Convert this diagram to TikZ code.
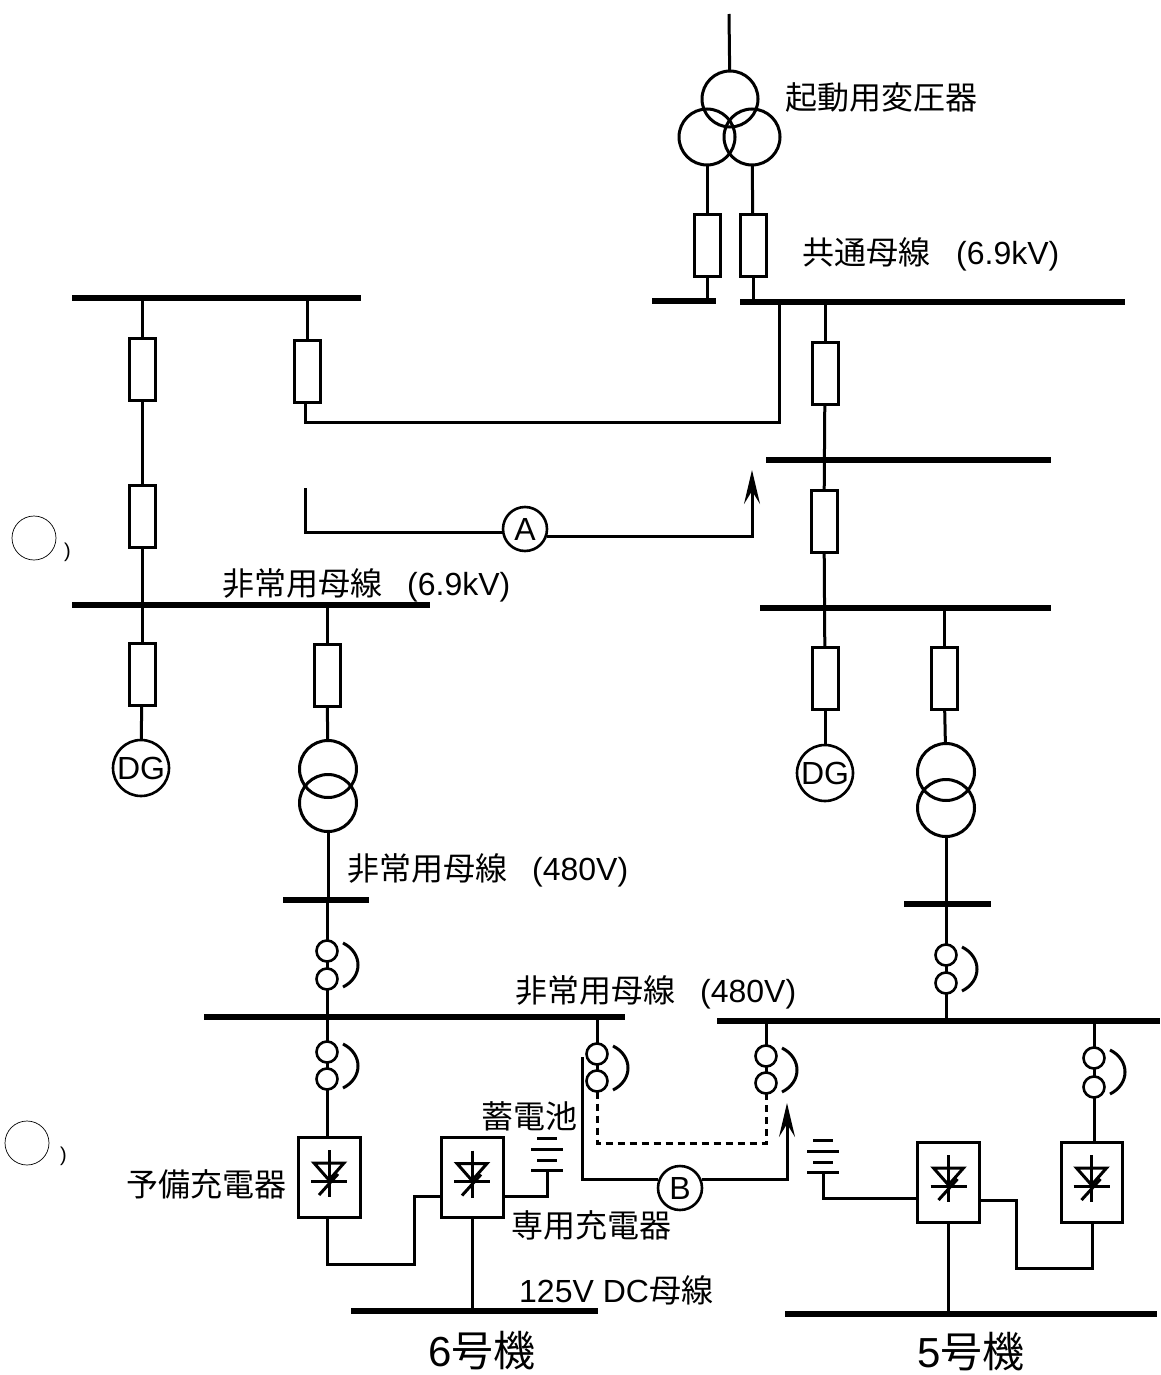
\documentclass[tikz,border=0pt]{standalone}
\usepackage{fontspec}
\setmainfont{Liberation Sans}
\newfontfamily\jp{Noto Sans CJK JP}
\usetikzlibrary{arrows.meta}
\tikzset{
    wire/.style={line width=3pt},
    brk/.style={shape=rectangle,draw=black,line width=3pt,minimum width=26pt,minimum height=62pt,inner sep=0pt,outer sep=0pt},
    bus/.style={shape=rectangle,fill=black,minimum height=6pt,inner sep=0pt,outer sep=0pt},
    sw/.style={shape=circle,draw=black,line width=2.6pt,minimum size=21pt,inner sep=0pt,outer sep=0pt},
    trans/.style={shape=circle,draw=black,line width=3pt,minimum size=56pt,inner sep=0pt,outer sep=0pt},
    gen/.style={shape=circle,draw=black,line width=2.6pt,minimum size=56pt,inner sep=0pt,outer sep=0pt,font=\fontsize{32}{32}\selectfont},
    tag/.style={shape=circle,draw=black,line width=2.6pt,minimum size=44pt,inner sep=0pt,outer sep=0pt,font=\fontsize{32}{32}\selectfont},
    chg/.style={shape=rectangle,draw=black,line width=3pt,minimum width=62pt,minimum height=80pt,inner sep=0pt,outer sep=0pt},
    lbl/.style={anchor=west,inner sep=0pt,font=\fontsize{32}{32}\selectfont},
    big/.style={anchor=west,inner sep=0pt,font=\fontsize{42}{42}\selectfont},
    blank/.style={shape=circle,draw=black,line width=0.7pt,minimum size=44pt,inner sep=0pt,outer sep=0pt},
    thy/.pic={
        \draw[wire] (0,-27) -- (0,20);
        \draw[wire] (-15,-14) -- (15,-14) -- (0,3) -- cycle;
        \draw[wire] (-18,4) -- (18,4);
        \draw[wire] (9,-3) -- (-10,18);
    },
    batt/.pic={
        \draw[wire] (-10,-32) -- (10,-32);
        \draw[wire] (-16,-21) -- (16,-21);
        \draw[wire] (-10,-10) -- (10,-10);
        \draw[wire] (-16,0) -- (16,0);
    },
    hook/.pic={
        \draw[wire] (16,-22) .. controls (36,-12) and (36,12) .. (16,22);
    },
    >={Stealth[length=34pt,width=16pt,inset=13pt]}
}
\begin{document}
\begin{tikzpicture}[x=1pt,y=-1pt]
    \useasboundingbox (0,0) rectangle (1160,1375);

    \coordinate (top) at (729,14);
    \node[trans] (T0) at (730,99) {};
    \node[trans] (T1) at (707,137) {};
    \node[trans] (T2) at (752,137) {};
    \node[brk] (K1) at (707,245) {};
    \node[brk] (K2) at (753,245) {};
    \node[bus,minimum width=64pt] (Ba) at (684,301) {};
    \node[bus,minimum width=385pt] (Bb) at (932.5,302) {};
    \node[lbl] (n1) at (785,97) {\jp 起動用変圧器};
    \node[lbl] (n2) at (802,254) {\jp 共通母線\rmfamily\hspace{26pt}(6.9kV)};
    \path [wire] (top) edge (T0);
    \path [wire] (T1) edge (K1);
    \path [wire] (T2) edge (K2);
    \path [wire] (K1) edge (K1 |- Ba);
    \path [wire] (K2) edge (K2 |- Bb);

    \node[bus,minimum width=289pt] (Bc) at (216.5,298) {};
    \node[brk] (K3) at (142,369) {};
    \node[brk] (K4) at (307,371) {};
    \node[brk] (K5) at (142,516) {};
    \node[bus,minimum width=358pt] (Bd) at (251,605) {};
    \node[brk] (K6) at (142,674) {};
    \node[brk] (K7) at (327,675) {};
    \node[gen] (G1) at (141,768) {DG};
    \node[trans,minimum size=57pt] (T3) at (328,769) {};
    \node[trans,minimum size=57pt] (T4) at (328,803) {};
    \node[bus,minimum width=86pt] (Be) at (326,900) {};
    \node[lbl] (n3) at (222,585) {\jp 非常用母線\rmfamily\hspace{25pt}(6.9kV)};
    \node[lbl] (n4) at (347,870) {\jp 非常用母線\rmfamily\hspace{25pt}(480V)};
    \path [wire] (K3 |- Bc) edge (K3);
    \path [wire] (K4 |- Bc) edge (K4);
    \path [wire] (K3) edge (K5);
    \path [wire] (K5) edge (K6);
    \path [wire] (K6) edge (G1);
    \path [wire] (K7 |- Bd) edge (K7);
    \path [wire] (K7) edge (T3);
    \path [wire] (T4) edge (T4 |- Be);

    \coordinate (c1) at (779,422);
    \coordinate (c2) at (305,422);
    \draw[wire] (c1 |- Bb) -- (c1) -- (c2) -- (c2 |- K4.south);

    \node[tag] (A) at (525,529) {A};
    \coordinate (a0) at (305,488);
    \coordinate (a1) at (305,532);
    \coordinate (a2) at (752,536);
    \coordinate (a3) at (752,470);
    \draw[wire] (a0) -- (a1) -- (a1 -| A.west);
    \draw[wire,->] (a2 -| A.east) -- (a2) -- (a3);

    \node[brk] (K8) at (825,373) {};
    \node[bus,minimum width=285pt] (Bf) at (908.5,460) {};
    \node[brk] (K9) at (824,521) {};
    \node[bus,minimum width=291pt] (Bg) at (905.5,608) {};
    \node[brk] (K10) at (825,678) {};
    \node[brk] (K11) at (944,678) {};
    \node[gen] (G2) at (825,773) {DG};
    \node[trans,minimum size=57pt] (T5) at (946,772) {};
    \node[trans,minimum size=57pt] (T6) at (946,808) {};
    \node[bus,minimum width=87pt] (Bh) at (947,904) {};
    \path [wire] (K8 |- Bb) edge (K8);
    \path [wire] (K8) edge (K9);
    \path [wire] (K9) edge (K10);
    \path [wire] (K10) edge (G2);
    \path [wire] (K11 |- Bg) edge (K11);
    \path [wire] (K11) edge (T5);
    \path [wire] (T6) edge (T6 |- Bh);

    \node[sw] (S1) at (327,951) {};
    \node[sw] (S2) at (327,979) {};
    \node[bus,minimum width=421pt] (Bi) at (414.5,1017) {};
    \node[sw] (S3) at (327,1052) {};
    \node[sw] (S4) at (327,1079) {};
    \node[sw] (S5) at (597,1054) {};
    \node[sw] (S6) at (597,1081) {};
    \node[sw] (S7) at (766,1056) {};
    \node[sw] (S8) at (766,1083) {};
    \node[sw] (S9) at (946,955) {};
    \node[sw] (S10) at (946,983) {};
    \node[sw] (S11) at (1094,1058) {};
    \node[sw] (S12) at (1094,1087) {};
    \node[bus,minimum width=443pt] (Bj) at (938.5,1021) {};
    \pic at (327,965) {hook};
    \pic at (327,1066) {hook};
    \pic at (597,1068) {hook};
    \pic at (766,1070) {hook};
    \pic at (946,969) {hook};
    \pic at (1094,1072) {hook};
    \node[lbl] (n5) at (515,992) {\jp 非常用母線\rmfamily\hspace{25pt}(480V)};
    \path [wire] (S1 |- Be) edge (S1);
    \path [wire] (S1) edge (S2);
    \path [wire] (S2) edge (S2 |- Bi);
    \path [wire] (S3 |- Bi) edge (S3);
    \path [wire] (S3) edge (S4);
    \path [wire] (S5) edge (S6);
    \path [wire] (S5) edge (S5 |- Bi);
    \path [wire] (S7) edge (S8);
    \path [wire] (S7) edge (S7 |- Bj);
    \path [wire] (S9 |- Bh) edge (S9);
    \path [wire] (S9) edge (S10);
    \path [wire] (S10) edge (S10 |- Bj);
    \path [wire] (S11) edge (S12);
    \path [wire] (S11) edge (S11 |- Bj);

    \coordinate (d1) at (597,1143);
    \coordinate (d2) at (766,1143);
    \draw[wire,dash pattern=on 7pt off 5pt] (S6) -- (d1) -- (d2) -- (S8);

    \node[tag] (B) at (680,1188) {B};
    \coordinate (b0) at (582,1057);
    \coordinate (b1) at (582,1179);
    \coordinate (b2) at (787,1179);
    \coordinate (b3) at (787,1103);
    \draw[wire] (b0) -- (b1) -- (b1 -| B.west);
    \draw[wire,->] (b2 -| B.east) -- (b2) -- (b3);

    \node[chg] (C1) at (329,1177) {};
    \node[chg] (C2) at (472,1177.5) {};
    \node[chg] (C3) at (948.5,1182) {};
    \node[chg,minimum width=61pt] (C4) at (1091.5,1182) {};
    \pic at (C1) {thy};
    \pic at (C2) {thy};
    \pic at (C3) {thy};
    \pic at (C4) {thy};
    \path [wire] (S4) edge (S4 |- C1.north);
    \path [wire] (S12) edge (S12 |- C4.north);

    \coordinate (f1) at (327,1264);
    \coordinate (f2) at (414,1264);
    \coordinate (f3) at (414,1196);
    \draw[wire] (f1 |- C1.south) -- (f1) -- (f2) -- (f3) -- (f3 -| C2.west);
    \coordinate (f4) at (1092,1268);
    \coordinate (f5) at (1016,1268);
    \coordinate (f6) at (1016,1200);
    \draw[wire] (f4 |- C4.south) -- (f4) -- (f5) -- (f6) -- (f6 -| C3.east);

    \coordinate (e1) at (547,1170);
    \coordinate (e2) at (547,1196);
    \pic at (e1) {batt};
    \draw[wire] (e1) -- (e2) -- (e2 -| C2.east);
    \coordinate (e3) at (823,1172);
    \coordinate (e4) at (823,1198);
    \pic at (e3) {batt};
    \draw[wire] (e3) -- (e4) -- (e4 -| C3.west);

    \node[bus,minimum width=247pt] (Bk) at (474.5,1311) {};
    \node[bus,minimum width=372pt] (Bl) at (971,1314) {};
    \path [wire] (C2) edge (C2 |- Bk);
    \path [wire] (C3) edge (C3 |- Bl);

    \node[lbl] (n6) at (481,1116) {\jp 蓄電池};
    \node[lbl] (n7) at (126,1184) {\jp 予備充電器};
    \node[lbl] (n8) at (511,1225) {\jp 専用充電器};
    \node[lbl] (n9) at (519,1290) {125V DC\jp 母線};
    \node[big] (n10) at (428,1351) {6\jp 号機};
    \node[big] (n11) at (917,1352) {5\jp 号機};

    \node[blank] (Q1) at (34,538) {};
    \node[blank] (Q2) at (27,1143) {};
    \node[lbl,font=\fontsize{20}{20}\selectfont] (p1) at (64,552) {)};
    \node[lbl,font=\fontsize{20}{20}\selectfont] (p2) at (60,1156) {)};
\end{tikzpicture}
\end{document}
